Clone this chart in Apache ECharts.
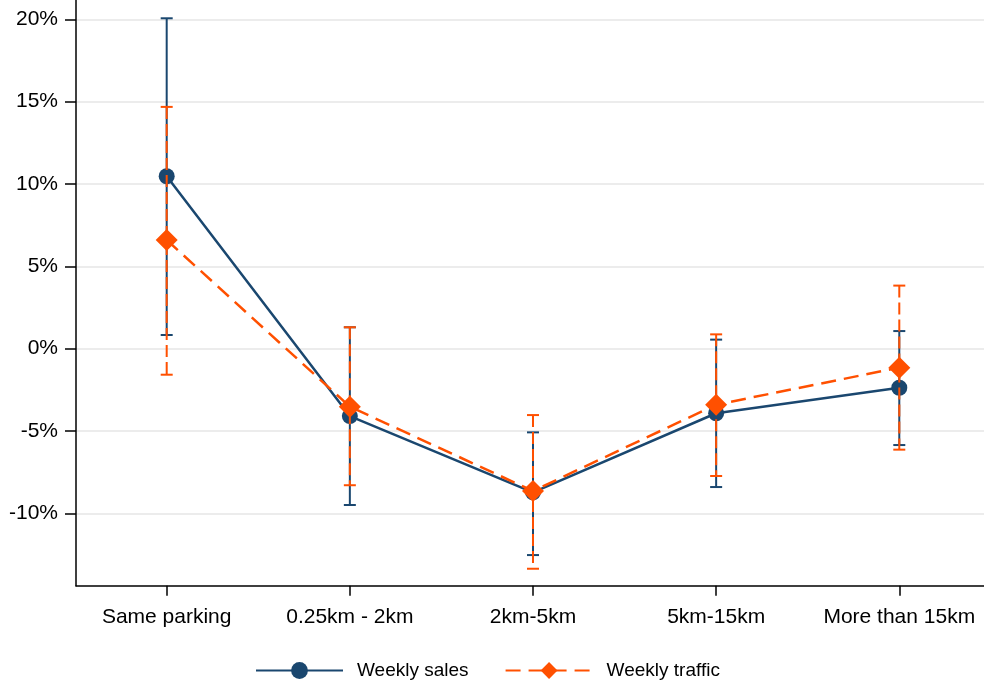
<!DOCTYPE html>
<html>
<head>
<meta charset="utf-8">
<script src="https://cdn.jsdelivr.net/npm/echarts@6/dist/echarts.min.js"></script>
<style>
  html, body { margin: 0; padding: 0; background: #fff; overflow: hidden; }
  #chart { width: 984px; height: 686px; }
</style>
</head>
<body>
<div id="chart"></div>
<script>
// Distance bands
const categories = ['Same parking', '0.25km - 2km', '2km-5km', '5km-15km', 'More than 15km'];

// Weekly sales: point estimate and 95% interval (percent)
const salesValues = [10.47, -4.09, -8.72, -3.92, -2.37];
const salesLow    = [0.83, -9.49, -12.53, -8.40, -5.85];
const salesHigh   = [20.06, 1.30, -5.08, 0.55, 1.07];

// Weekly traffic: point estimate and 95% interval (percent)
const trafficValues = [6.60, -3.52, -8.64, -3.40, -1.15];
const trafficLow    = [-1.58, -8.29, -13.36, -7.73, -6.13];
const trafficHigh   = [14.68, 1.30, -4.03, 0.87, 3.83];

// Y tick labels
const yTicks = [-10, -5, 0, 5, 10, 15, 20];

const NAVY = '#1a476f';
const ORANGE = '#ff5000';
const FONT = '"Liberation Sans", Arial, sans-serif';

const catIndex = categories.map((c, i) => i);

function points(values) {
  return values.map((v, i) => [i, v]);
}

function ciData(low, high) {
  return low.map((l, i) => [i, l, high[i]]);
}

function errorBarRenderer(color, dashed) {
  return function (params, api) {
    const x = api.value(0);
    const lo = api.coord([x, api.value(1)]);
    const hi = api.coord([x, api.value(2)]);
    const half = 6;
    const cap = { stroke: color, lineWidth: 2 };
    const stem = { stroke: color, lineWidth: 2 };
    if (dashed) stem.lineDash = [12, 5];
    return {
      type: 'group',
      children: [
        { type: 'line', shape: { x1: hi[0], y1: hi[1], x2: lo[0], y2: lo[1] }, style: stem },
        { type: 'line', shape: { x1: hi[0] - half, y1: hi[1], x2: hi[0] + half, y2: hi[1] }, style: cap },
        { type: 'line', shape: { x1: lo[0] - half, y1: lo[1], x2: lo[0] + half, y2: lo[1] }, style: cap }
      ]
    };
  };
}

const chart = echarts.init(document.getElementById('chart'), null, { renderer: 'canvas' });

chart.setOption({
  animation: false,
  backgroundColor: '#fff',
  textStyle: { fontFamily: FONT },
  grid: { left: 76, top: 0, right: 0, height: 585.7, containLabel: false },
  legend: {
    data: ['Weekly sales', 'Weekly traffic'],
    top: 656,
    left: 250,
    itemWidth: 87,
    itemHeight: 21,
    itemGap: 36,
    textStyle: { fontSize: 19, color: '#000', fontFamily: FONT, padding: [0, 0, 0, 9] }
  },
  xAxis: {
    type: 'value',
    min: -0.4952,
    max: 4.4625,
    axisLine: { onZero: false, lineStyle: { color: '#000', width: 1.5 } },
    axisTick: { show: true, length: 10, customValues: catIndex, lineStyle: { color: '#000', width: 1.5 } },
    axisLabel: {
      customValues: catIndex,
      color: '#000', fontSize: 21, margin: 21, fontFamily: FONT,
      formatter: v => categories[Math.round(v)]
    },
    splitLine: { show: false }
  },
  yAxis: {
    type: 'value',
    min: -14.39,
    max: 21.17,
    axisLine: { show: true, onZero: false, lineStyle: { color: '#000', width: 1.5 } },
    axisTick: { show: true, length: 11, customValues: yTicks, lineStyle: { color: '#000', width: 1.5 } },
    axisLabel: {
      customValues: yTicks,
      color: '#000', fontSize: 21, margin: 18, fontFamily: FONT,
      formatter: v => v + '%'
    },
    splitLine: { show: true, lineStyle: { color: '#e6e6e6', width: 1.5 } }
  },
  series: [
    {
      name: 'sales CI',
      type: 'custom',
      data: ciData(salesLow, salesHigh),
      renderItem: errorBarRenderer(NAVY, false),
      z: 1,
      silent: true
    },
    {
      name: 'Weekly sales',
      type: 'line',
      data: points(salesValues),
      symbol: 'circle',
      symbolSize: 16,
      itemStyle: { color: NAVY },
      lineStyle: { color: NAVY, width: 2.5 },
      z: 2
    },
    {
      name: 'traffic CI',
      type: 'custom',
      data: ciData(trafficLow, trafficHigh),
      renderItem: errorBarRenderer(ORANGE, true),
      z: 3,
      silent: true
    },
    {
      name: 'Weekly traffic',
      type: 'line',
      data: points(trafficValues),
      symbol: 'diamond',
      symbolSize: 22,
      itemStyle: { color: ORANGE },
      lineStyle: { color: ORANGE, width: 2.5, type: [15, 8] },
      z: 4
    }
  ]
});
</script>
</body>
</html>
